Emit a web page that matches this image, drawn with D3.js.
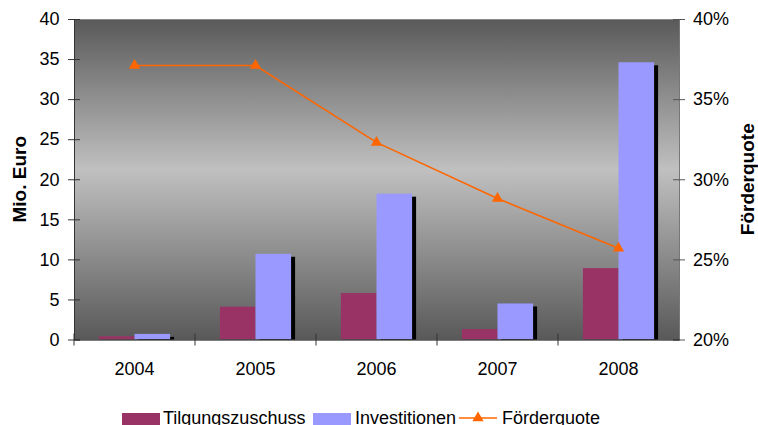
<!DOCTYPE html>
<html>
<head>
<meta charset="utf-8">
<script src="https://cdn.jsdelivr.net/npm/d3@7/dist/d3.min.js"></script>
<style>
  html, body { margin: 0; padding: 0; background: #fff; }
  svg { display: block; font-family: "Liberation Sans", Arial, sans-serif; }
</style>
</head>
<body>
<svg id="chart" width="758" height="425"></svg>
<script>
// Jahre und Werte
const years = ["2004", "2005", "2006", "2007", "2008"];
const tilgungszuschuss = [0.4, 4.1, 5.8, 1.3, 8.9];     // Mio. Euro
const investitionen = [0.7, 10.7, 18.2, 4.5, 34.6];     // Mio. Euro
const foerderquote = [0.371, 0.371, 0.323, 0.288, 0.257];
const leftTicks = [0, 5, 10, 15, 20, 25, 30, 35, 40];
const rightTicks = [0.20, 0.25, 0.30, 0.35, 0.40];
const seriesNames = ["Tilgungszuschuss", "Investitionen", "Förderquote"];

const colors = { tilg: "#993366", inv: "#9999FF", quote: "#FF6600" };

const svg = d3.select("#chart");
const m = { left: 74, right: 679, top: 19, bottom: 339.5 };

const x = d3.scaleBand().domain(years).range([m.left, m.right]).paddingInner(0).paddingOuter(0);
const xSub = d3.scaleBand().domain(["t", "i"]).range([0, x.bandwidth()]).paddingOuter(0.7).paddingInner(0);
const y = d3.scaleLinear().domain([0, 40]).range([m.bottom, m.top]);
const y2 = d3.scaleLinear().domain([0.20, 0.40]).range([m.bottom, m.top]);

// Hintergrundverlauf der Zeichenfläche
const defs = svg.append("defs");
const grad = defs.append("linearGradient").attr("id", "bg").attr("x1", 0).attr("y1", 0).attr("x2", 0).attr("y2", 1);
grad.append("stop").attr("offset", "0%").attr("stop-color", "#595959");
grad.append("stop").attr("offset", "47%").attr("stop-color", "#c0c0c0");
grad.append("stop").attr("offset", "100%").attr("stop-color", "#595959");
defs.append("clipPath").attr("id", "plotclip").append("rect")
  .attr("x", m.left).attr("y", m.top).attr("width", m.right - m.left).attr("height", m.bottom - m.top);

svg.append("rect")
  .attr("x", m.left).attr("y", m.top)
  .attr("width", m.right - m.left).attr("height", m.bottom - m.top)
  .attr("fill", "url(#bg)");
svg.append("line").attr("x1", m.left).attr("x2", m.right).attr("y1", m.top + 0.5).attr("y2", m.top + 0.5)
  .attr("stroke", "#8a8a8a").attr("stroke-width", 1);

const plot = svg.append("g").attr("clip-path", "url(#plotclip)");

// Schatten der Investitionsbalken
plot.selectAll("rect.shadow").data(years).join("rect")
  .attr("x", d => x(d) + xSub("i") + 4)
  .attr("y", (d, i) => y(investitionen[i]) + 3)
  .attr("width", xSub.bandwidth())
  .attr("height", (d, i) => m.bottom - y(investitionen[i]))
  .attr("fill", "#000");

plot.selectAll("rect.tilg").data(years).join("rect")
  .attr("x", d => x(d) + xSub("t"))
  .attr("y", (d, i) => y(tilgungszuschuss[i]))
  .attr("width", xSub.bandwidth())
  .attr("height", (d, i) => m.bottom - y(tilgungszuschuss[i]))
  .attr("fill", colors.tilg);

plot.selectAll("rect.inv").data(years).join("rect")
  .attr("x", d => x(d) + xSub("i"))
  .attr("y", (d, i) => y(investitionen[i]))
  .attr("width", xSub.bandwidth())
  .attr("height", (d, i) => m.bottom - y(investitionen[i]))
  .attr("fill", colors.inv);

// Linke Achse
const yAxis = d3.axisLeft(y).tickValues(leftTicks).tickSizeInner(6).tickSizeOuter(0).tickPadding(8.5);
const gl = svg.append("g").attr("transform", `translate(${m.left},0)`).call(yAxis);
gl.selectAll(".tick line").attr("x2", -6).attr("x1", 6).attr("stroke", "#333");
gl.select(".domain").attr("stroke", "#333");

// Rechte Achse
const y2Axis = d3.axisRight(y2).tickValues(rightTicks).tickFormat(d3.format(".0%")).tickSizeInner(6).tickSizeOuter(0).tickPadding(8);
const gr = svg.append("g").attr("transform", `translate(${m.right},0)`).call(y2Axis);
gr.selectAll(".tick line").attr("x1", -6).attr("x2", 6).attr("stroke", "#555");
gr.select(".domain").attr("stroke", "#777");

// Untere Achse mit Trennstrichen zwischen den Jahren
const xAxis = d3.axisBottom(x).tickSize(0).tickPadding(22.5);
const gb = svg.append("g").attr("transform", `translate(0,${m.bottom})`).call(xAxis);
gb.select(".domain").attr("stroke", "#000");
const seps = years.map(d => x(d)).concat([m.right]);
svg.selectAll("line.sep").data(seps.slice(1, -1).concat([m.left])).join("line")
  .attr("x1", d => d).attr("x2", d => d)
  .attr("y1", m.bottom - 6).attr("y2", m.bottom + 6)
  .attr("stroke", "#333");

svg.selectAll(".tick text").attr("font-size", 18).attr("fill", "#000")
  .attr("font-family", "'Liberation Sans', Arial, sans-serif");

// Förderquote-Linie
const line = d3.line().x((d, i) => x(years[i]) + x.bandwidth() / 2).y(d => y2(d));
svg.append("path").datum(foerderquote).attr("d", line)
  .attr("fill", "none").attr("stroke", colors.quote).attr("stroke-width", 1.6);
const tri = d3.symbol().type(d3.symbolTriangle).size(55);
svg.selectAll("path.mk").data(foerderquote).join("path")
  .attr("transform", (d, i) => `translate(${x(years[i]) + x.bandwidth() / 2},${y2(d)})`)
  .attr("d", tri).attr("fill", colors.quote);

// Achsentitel
svg.append("text").attr("transform", `translate(26,${(m.top + m.bottom) / 2}) rotate(-90)`)
  .attr("text-anchor", "middle").attr("font-size", 19).attr("font-weight", "bold").text("Mio. Euro");
svg.append("text").attr("transform", `translate(754,${(m.top + m.bottom) / 2}) rotate(-90)`)
  .attr("text-anchor", "middle").attr("font-size", 19).attr("font-weight", "bold").text("Förderquote");

// Legende
const lg = svg.append("g").attr("font-size", 18);
const ly = 423.5;
lg.append("rect").attr("x", 122).attr("y", 413).attr("width", 38).attr("height", 12).attr("fill", colors.tilg);
lg.append("text").attr("x", 163).attr("y", ly).text(seriesNames[0]);
lg.append("rect").attr("x", 313).attr("y", 413).attr("width", 38).attr("height", 12).attr("fill", colors.inv);
lg.append("text").attr("x", 355).attr("y", ly).text(seriesNames[1]);
lg.append("line").attr("x1", 459).attr("x2", 497).attr("y1", 418).attr("y2", 418)
  .attr("stroke", colors.quote).attr("stroke-width", 1.6);
lg.append("path").attr("transform", "translate(478,418)").attr("d", tri).attr("fill", colors.quote);
lg.append("text").attr("x", 502).attr("y", ly).text(seriesNames[2]);
</script>
</body>
</html>
